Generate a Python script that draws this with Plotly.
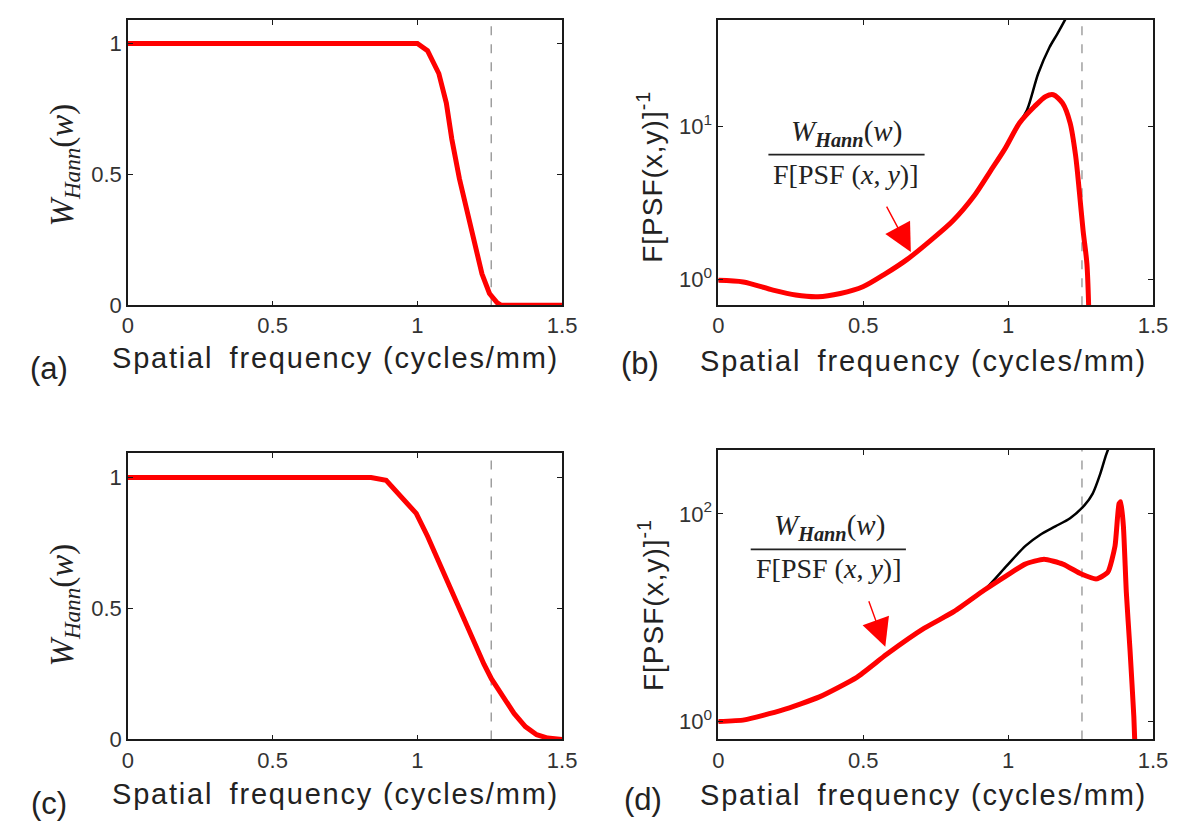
import plotly.graph_objects as go

# ---------------- data ----------------
cutoff = 1.255  # dashed vertical line (cycles/mm)

# (a) Hann window, case 1
a_x = [0, 1.0, 1.035, 1.074, 1.100, 1.119, 1.145, 1.172, 1.197, 1.223, 1.249, 1.275, 1.29, 1.5]
a_y = [1, 1, 0.972, 0.885, 0.772, 0.634, 0.484, 0.358, 0.233, 0.120, 0.045, 0.01, 0, 0]

# (b) inverse filter (black) and windowed inverse filter (red), case 1
b_red_x = [0, 0.086, 0.189, 0.267, 0.344, 0.421, 0.499, 0.576, 0.653, 0.731, 0.808, 0.885,
           0.937, 0.989, 1.040, 1.091, 1.130, 1.156, 1.188, 1.214, 1.233, 1.246, 1.259, 1.272, 1.280]
b_red_y = [0.99, 0.966, 0.855, 0.794, 0.774, 0.813, 0.898, 1.09, 1.36, 1.79, 2.40, 3.56,
           5.02, 7.10, 10.5, 13.4, 15.6, 16.0, 14.1, 10.5, 6.43, 3.74, 2.07, 1.27, 0.5]
b_blk_x = [0, 0.086, 0.189, 0.267, 0.344, 0.421, 0.499, 0.576, 0.653, 0.731, 0.808, 0.885,
           0.937, 0.989, 1.040, 1.066, 1.104, 1.143, 1.169, 1.197, 1.22]
b_blk_y = [0.99, 0.966, 0.855, 0.794, 0.774, 0.813, 0.898, 1.09, 1.36, 1.79, 2.40, 3.56,
           5.02, 7.10, 10.5, 12.8, 22.0, 32.6, 39.6, 49.4, 60.0]

# (c) Hann window, case 2
c_x = [0, 0.84, 0.892, 0.944, 0.996, 1.035, 1.074, 1.113, 1.152, 1.191, 1.230, 1.256,
       1.295, 1.334, 1.373, 1.412, 1.45, 1.5]
c_y = [1, 1, 0.989, 0.926, 0.863, 0.776, 0.676, 0.575, 0.475, 0.375, 0.287, 0.231,
       0.162, 0.099, 0.049, 0.018, 0.005, 0]

# (d) inverse filter (black) and windowed inverse filter (red), case 2
d_red_x = [0, 0.090, 0.22, 0.349, 0.478, 0.581, 0.711, 0.814, 0.917, 0.995, 1.059, 1.124,
           1.189, 1.253, 1.305, 1.344, 1.369, 1.383, 1.389, 1.398, 1.408, 1.421, 1.434, 1.44]
d_red_y = [1.0, 1.04, 1.29, 1.73, 2.67, 4.45, 7.94, 11.5, 18.4, 25.5, 32.9, 36.6,
           32.9, 26.4, 23.7, 27.4, 49.0, 126, 131, 75.9, 17.7, 4.79, 1.11, 0.4]
d_blk_x = [0, 0.090, 0.22, 0.349, 0.478, 0.581, 0.711, 0.814, 0.917, 0.995, 1.059, 1.111,
           1.163, 1.214, 1.264, 1.292, 1.318, 1.337, 1.345]
d_blk_y = [1.0, 1.04, 1.29, 1.73, 2.67, 4.45, 7.94, 11.5, 18.4, 31.6, 49.0, 63.1,
           75.9, 91.0, 121.6, 157, 243, 362, 417]

x_ticks = [0, 0.5, 1, 1.5]
x_ticktext = ["0", "0.5", "1", "1.5"]
lin_ticks = [0, 0.5, 1]
lin_ticktext = ["0", "0.5", "1"]
b_ticks = [1, 10]
b_ticktext = ["10<sup>0</sup>", "10<sup>1</sup>"]
d_ticks = [1, 100]
d_ticktext = ["10<sup>0</sup>", "10<sup>2</sup>"]
b_minor = [0.7, 0.8, 0.9, 2, 3, 4, 5, 6, 7, 8, 9, 10, 20, 30, 40]
d_minor = [0.7, 0.8, 0.9, 2, 3, 4, 5, 6, 7, 8, 9, 10, 20, 30, 40, 50, 60, 70, 80, 90, 200, 300, 400]

panel_labels = ["(a)", "(b)", "(c)", "(d)"]
x_title = "Spatial&#8194;frequency (cycles/mm)"

# ---------------- layout geometry ----------------
W, H = 1186, 831
def px_x(p): return p / W
def px_y(p): return 1 - p / H

RED = "#ff0000"
AXC = "#1a1a1a"
TICKFONT = dict(family="Liberation Sans, Arial, sans-serif", size=22, color="#333333")
SANS = "Liberation Sans, Arial, sans-serif"
SERIF = "Liberation Serif, Times New Roman, serif"

fig = go.Figure()

fig.add_trace(go.Scatter(x=a_x, y=a_y, mode="lines", xaxis="x", yaxis="y",
                         line=dict(color=RED, width=5)))
fig.add_trace(go.Scatter(x=b_blk_x, y=b_blk_y, mode="lines", xaxis="x2", yaxis="y2",
                         line=dict(color="black", width=2.5, shape="spline", smoothing=0.8)))
fig.add_trace(go.Scatter(x=b_red_x, y=b_red_y, mode="lines", xaxis="x2", yaxis="y2",
                         line=dict(color=RED, width=5, shape="spline", smoothing=0.8)))
fig.add_trace(go.Scatter(x=c_x, y=c_y, mode="lines", xaxis="x3", yaxis="y3",
                         line=dict(color=RED, width=5)))
fig.add_trace(go.Scatter(x=d_blk_x, y=d_blk_y, mode="lines", xaxis="x4", yaxis="y4",
                         line=dict(color="black", width=2.5, shape="spline", smoothing=0.7)))
fig.add_trace(go.Scatter(x=d_red_x, y=d_red_y, mode="lines", xaxis="x4", yaxis="y4",
                         line=dict(color=RED, width=5, shape="spline", smoothing=0.5)))

def base_axis(**kw):
    d = dict(showline=True, linecolor=AXC, linewidth=1.5, mirror="ticks", ticks="inside",
             ticklen=5, tickwidth=1.2, tickcolor=AXC, tickfont=TICKFONT, showgrid=False,
             zeroline=False, fixedrange=True)
    d.update(kw)
    return d

dom_left = [px_x(116), px_x(558)]
dom_right = [px_x(717), px_x(1159.5)]
dom_top = [px_y(302), px_y(12)]
dom_bot_c = [px_y(743), px_y(452)]
dom_bot_d = [px_y(743), px_y(449)]

xa = dict(range=[0, 1.5], tickmode="array", tickvals=x_ticks, ticktext=x_ticktext)
fig.update_layout(
    xaxis=base_axis(domain=dom_left, anchor="y", **xa),
    yaxis=base_axis(domain=dom_top, anchor="x", range=[0, 1.09], tickmode="array",
                    tickvals=lin_ticks, ticktext=lin_ticktext),
    xaxis2=base_axis(domain=dom_right, anchor="y2", **xa),
    yaxis2=base_axis(domain=dom_top, anchor="x2", type="log", range=[-0.167, 1.692],
                     tickmode="array", tickvals=b_ticks, ticktext=b_ticktext),
    xaxis3=base_axis(domain=dom_left, anchor="y3", **xa),
    yaxis3=base_axis(domain=dom_bot_c, anchor="x3", range=[0, 1.094], tickmode="array",
                     tickvals=lin_ticks, ticktext=lin_ticktext),
    xaxis4=base_axis(domain=dom_right, anchor="y4", **xa),
    yaxis4=base_axis(domain=dom_bot_d, anchor="x4", type="log", range=[-0.171, 2.616],
                     tickmode="array", tickvals=d_ticks, ticktext=d_ticktext),
    yaxis5=dict(overlaying="y2", anchor="x2", side="right", type="log", range=[-0.167, 1.692],
                tickmode="array", tickvals=b_minor, ticks="inside", ticklen=3, tickcolor=AXC,
                showticklabels=False, showline=False, showgrid=False, zeroline=False, fixedrange=True),
    yaxis6=dict(overlaying="y4", anchor="x4", side="right", type="log", range=[-0.171, 2.616],
                tickmode="array", tickvals=d_minor, ticks="inside", ticklen=3, tickcolor=AXC,
                showticklabels=False, showline=False, showgrid=False, zeroline=False, fixedrange=True),
)

# dashed cutoff lines
for xr, yr in [("x", "y"), ("x2", "y2"), ("x3", "y3"), ("x4", "y4")]:
    fig.add_shape(type="line", xref=xr, yref=yr + " domain", x0=cutoff, x1=cutoff, y0=0, y1=1,
                  line=dict(color="#888888", width=1.2, dash="dash"), layer="below")

ann = []
# x titles
for cx, cy in [(327, 356), (926, 359), (327, 798), (926, 800)]:
    ann.append(dict(xref="paper", yref="paper", x=px_x(cx), y=px_y(cy), xanchor="center",
                    yanchor="middle", showarrow=False,
                    text='<span style="letter-spacing:1.8px">' + x_title + '</span>',
                    font=dict(family=SANS, size=29, color="#222222")))
# panel labels
for lab, cx, cy in zip(panel_labels, [36, 637, 36, 640], [366, 361, 808, 804]):
    ann.append(dict(xref="paper", yref="paper", x=px_x(cx), y=px_y(cy), xanchor="center",
                    yanchor="middle", showarrow=False, text=lab,
                    font=dict(family=SANS, size=31, color="#222222")))
# y titles
w_title = "<i>W</i><sub><i>Hann</i></sub>(<i>w</i>)"
for cy in [160, 607]:
    ann.append(dict(xref="paper", yref="paper", x=px_x(51), y=px_y(cy), xanchor="center",
                    yanchor="middle", showarrow=False, text=w_title, textangle=-90,
                    font=dict(family=SERIF, size=33, color="#222222")))
f_title = '<span style="letter-spacing:1px">F[PSF(x,y)]<sup>-1</sup></span>'
for cy in [172, 607]:
    ann.append(dict(xref="paper", yref="paper", x=px_x(648), y=px_y(cy), xanchor="center",
                    yanchor="middle", showarrow=False, text=f_title, textangle=-90,
                    font=dict(family=SANS, size=28, color="#222222")))

# fraction annotations
num_text = "<i>W</i><sub><b><i>Hann</i></b></sub>(<i>w</i>)"
den_text = "F[PSF (<i>x</i>, <i>y</i>)]"
fracs = [  # (bar x0, bar x1, bar y, num center x, den center x)
    (768, 927, 149, 848, 846),
    (750, 908, 550, 830, 829),
]
for x0, x1, yb, ncx, dcx in fracs:
    fig.add_shape(type="line", xref="paper", yref="paper", x0=px_x(x0), x1=px_x(x1),
                  y0=px_y(yb), y1=px_y(yb), line=dict(color="#222222", width=1.8))
    ann.append(dict(xref="paper", yref="paper", x=px_x(ncx), y=px_y(yb - 2), xanchor="center",
                    yanchor="bottom", showarrow=False, text=num_text,
                    font=dict(family=SERIF, size=29, color="#222222")))
    ann.append(dict(xref="paper", yref="paper", x=px_x(dcx), y=px_y(yb + 2), xanchor="center",
                    yanchor="top", showarrow=False, text=den_text,
                    font=dict(family=SERIF, size=28, color="#222222")))

# red arrows (head, tail in pixels)
for hx, hy, tx, ty in [(913, 248, 888, 201), (887, 649, 870, 602)]:
    ann.append(dict(xref="paper", yref="paper", x=px_x(hx), y=px_y(hy), ax=tx - hx, ay=ty - hy,
                    text="", showarrow=True, arrowhead=2, arrowsize=4, arrowwidth=1.4,
                    arrowcolor=RED))

fig.update_layout(annotations=ann, width=W, height=H, margin=dict(l=0, r=0, t=0, b=0),
                  paper_bgcolor="white", plot_bgcolor="white", showlegend=False)

fig.write_html("out.html")
